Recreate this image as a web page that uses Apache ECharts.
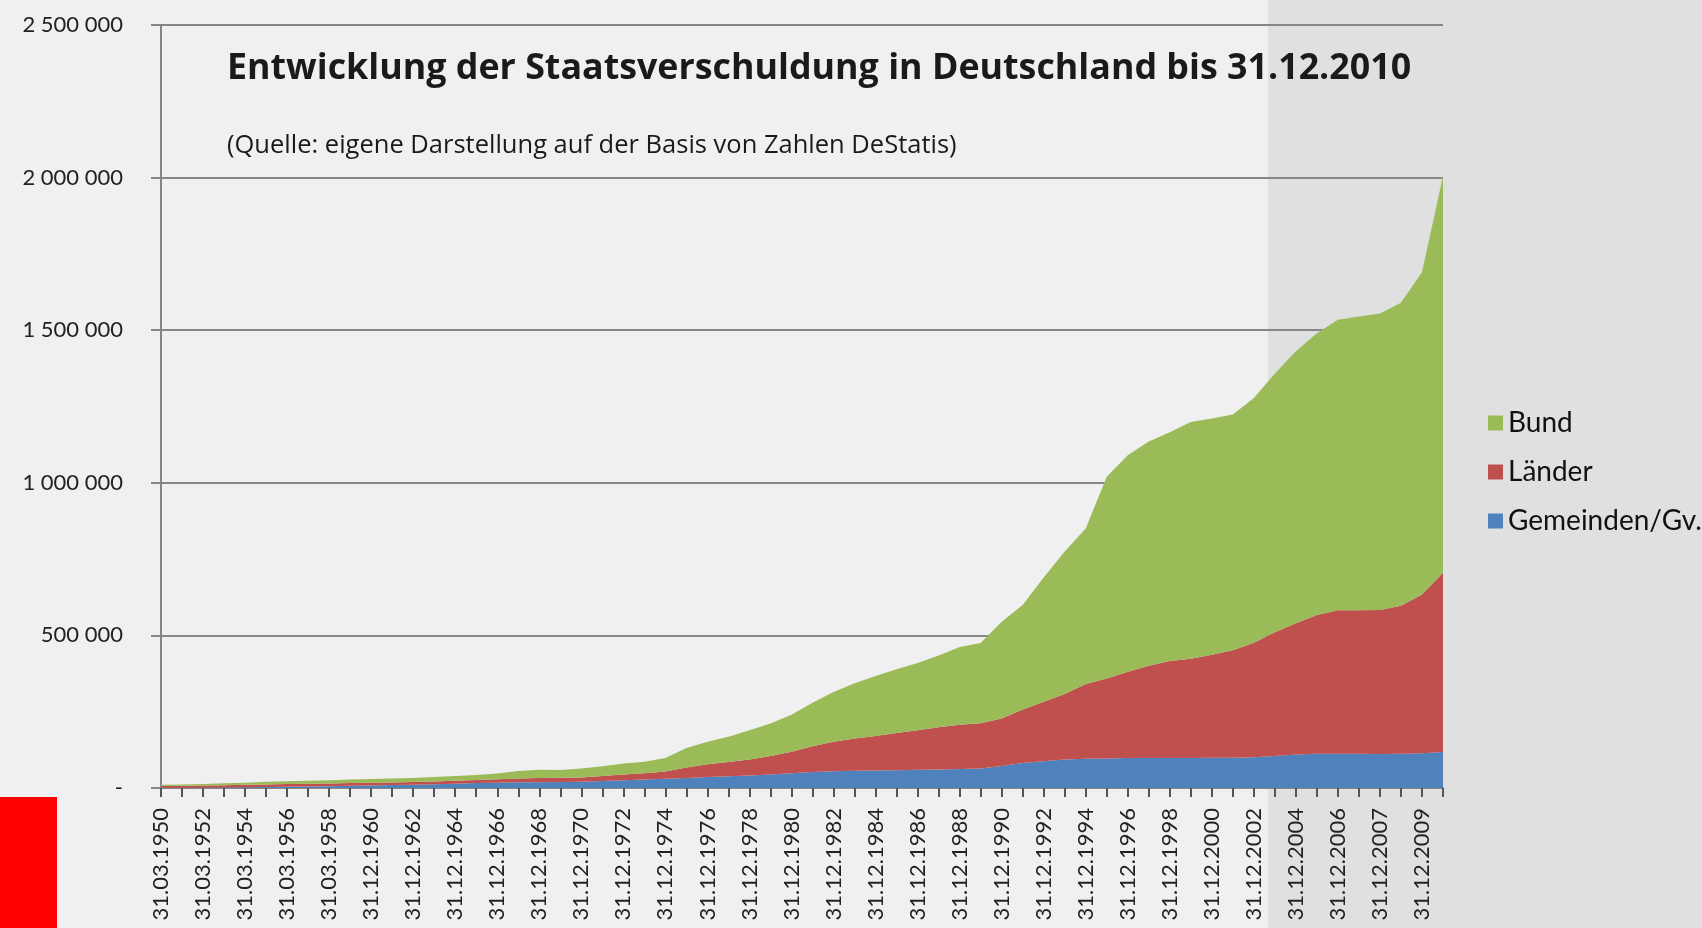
<!DOCTYPE html>
<html>
<head>
<meta charset="utf-8">
<script src="https://cdn.jsdelivr.net/npm/echarts@6/dist/echarts.min.js"></script>
<style>
  html, body { margin: 0; padding: 0; }
  #chart { width: 1702px; height: 928px; }
</style>
</head>
<body>
<div id="chart"></div>
<script>
// Stichtage (x-Achse)
const kategorien = [
  '31.03.1950', '31.03.1951', '31.03.1952', '31.03.1953', '31.03.1954', '31.03.1955', '31.03.1956', '31.03.1957', '31.03.1958', '31.03.1959',
  '31.12.1960', '31.12.1961', '31.12.1962', '31.12.1963', '31.12.1964', '31.12.1965', '31.12.1966', '31.12.1967', '31.12.1968', '31.12.1969',
  '31.12.1970', '31.12.1971', '31.12.1972', '31.12.1973', '31.12.1974', '31.12.1975', '31.12.1976', '31.12.1977', '31.12.1978', '31.12.1979',
  '31.12.1980', '31.12.1981', '31.12.1982', '31.12.1983', '31.12.1984', '31.12.1985', '31.12.1986', '31.12.1987', '31.12.1988', '31.12.1989',
  '31.12.1990', '31.12.1991', '31.12.1992', '31.12.1993', '31.12.1994', '31.12.1995', '31.12.1996', '31.12.1997', '31.12.1998', '31.12.1999',
  '31.12.2000', '31.12.2001', '31.12.2002', '31.12.2003', '31.12.2004', '31.12.2005', '31.12.2006', '30.06.2007', '31.12.2007', '31.12.2008',
  '31.12.2009', '31.12.2010'
];

// Schulden in Mio. EUR
const gemeinden = [
  500, 800, 1200, 1700, 2400, 3300, 4200, 5000, 6000, 7000,
  8200, 9500, 11000, 12500, 14000, 16000, 17500, 18500, 19000, 19500,
  20600, 23000, 25800, 28000, 30000, 33000, 36000, 38500, 41000, 44500,
  48500, 52500, 55000, 56500, 57000, 58000, 59500, 61000, 62500, 63500,
  72000, 82000, 88000, 93000, 96000, 97000, 98000, 98500, 98000, 98500,
  99000, 99500, 101000, 105000, 110000, 112000, 112500, 112000, 111000, 112000,
  114000, 118000
];
const laender = [
  6400, 6800, 7000, 7500, 8000, 8500, 8700, 8800, 8900, 9000,
  8800, 8600, 8700, 9000, 9400, 10400, 11500, 12800, 13800, 13800,
  14200, 16200, 18700, 20500, 24400, 34500, 42000, 47000, 52500, 60000,
  70500, 84000, 96700, 106000, 113000, 122000, 130000, 138000, 145000, 149000,
  156000, 175000, 195000, 215000, 245000, 262000, 283000, 302000, 318000, 325000,
  338000, 352000, 375000, 405000, 430000, 455000, 470000, 470000, 472000, 485000,
  520000, 587000
];
const bund = [
  3600, 3900, 4500, 6000, 7200, 9000, 9000, 9800, 10500, 11900,
  12700, 12800, 13300, 14600, 15700, 16500, 18200, 24000, 26700, 25900,
  29500, 32000, 36100, 37400, 44000, 63600, 73700, 82800, 96100, 107100,
  120600, 142500, 162600, 180900, 196900, 208700, 220100, 235000, 254200, 262400,
  317000, 343000, 407000, 467000, 509000, 661000, 709000, 734500, 750000, 775500,
  774000, 772500, 802000, 848000, 891000, 923000, 951500, 963000, 972000, 993000,
  1056000, 1300000
];

const achsenGrau = '#868686';
const schrift = 'Lato, "Open Sans", sans-serif';
const titelSchrift = '"Open Sans", Lato, sans-serif';

let chart = echarts.init(document.getElementById('chart'), null, {renderer: 'canvas'});

function tausender(v) {
  if (v === 0) return '-';
  return String(v).replace(/\B(?=(\d{3})+(?!\d))/g, ' ');
}

let option = {
  animation: false,
  textStyle: {fontFamily: schrift},
  graphic: [
    {type: 'rect', z: -100, shape: {x: 0, y: 0, width: 1702, height: 928}, style: {fill: '#f0f0f0'}, silent: true},
    {type: 'rect', z: -99, shape: {x: 1268, y: 0, width: 434, height: 928}, style: {fill: '#e0e0e0'}, silent: true},
    {type: 'rect', z: -98, shape: {x: 0, y: 797, width: 57, height: 131}, style: {fill: '#ff0000'}, silent: true}
  ],
  title: [{
    text: 'Entwicklung der Staatsverschuldung in Deutschland bis 31.12.2010',
    left: 227,
    top: 51,
    padding: 0,
    textStyle: {fontFamily: titelSchrift, fontSize: 35.8, fontWeight: 'bold', color: '#1a1a1a'}
  }, {
    text: '(Quelle: eigene Darstellung auf der Basis von Zahlen DeStatis)',
    left: 227,
    top: 133,
    padding: 0,
    textStyle: {fontFamily: titelSchrift, fontSize: 25.5, fontWeight: 'normal', color: '#1a1a1a'}
  }],
  legend: {
    orient: 'vertical',
    left: 1483,
    top: 404,
    itemWidth: 15,
    itemHeight: 15,
    itemGap: 21,
    icon: 'rect',
    data: ['Bund', 'Länder', 'Gemeinden/Gv.'],
    textStyle: {fontFamily: schrift, fontSize: 28, color: '#111'}
  },
  grid: {left: 161, right: 259, top: 25, bottom: 140, containLabel: false},
  xAxis: {
    type: 'category',
    boundaryGap: false,
    data: kategorien,
    axisLine: {lineStyle: {color: achsenGrau, width: 2}},
    axisTick: {show: true, interval: 0, length: 9, lineStyle: {color: '#555', width: 2}},
    axisLabel: {interval: 1, rotate: 90, margin: 20, fontSize: 22, color: '#222', fontFamily: schrift}
  },
  yAxis: {
    type: 'value',
    min: 0,
    max: 2500000,
    interval: 500000,
    axisLine: {show: true, lineStyle: {color: achsenGrau, width: 2}},
    axisTick: {show: true, length: 10, lineStyle: {color: achsenGrau, width: 2}},
    splitLine: {lineStyle: {color: achsenGrau, width: 2}},
    axisLabel: {margin: 38, fontSize: 22, color: '#222', fontFamily: schrift, formatter: tausender}
  },
  series: [{
    name: 'Gemeinden/Gv.',
    type: 'line',
    stack: 'gesamt',
    data: gemeinden,
    symbol: 'none',
    lineStyle: {width: 0},
    itemStyle: {color: '#4f81bd'},
    areaStyle: {color: '#4f81bd', opacity: 1}
  }, {
    name: 'Länder',
    type: 'line',
    stack: 'gesamt',
    data: laender,
    symbol: 'none',
    lineStyle: {width: 0},
    itemStyle: {color: '#c0504d'},
    areaStyle: {color: '#c0504d', opacity: 1}
  }, {
    name: 'Bund',
    type: 'line',
    stack: 'gesamt',
    data: bund,
    symbol: 'none',
    lineStyle: {width: 0},
    itemStyle: {color: '#9bbb59'},
    areaStyle: {color: '#9bbb59', opacity: 1}
  }]
};

chart.setOption(option, true);
</script>
</body>
</html>
